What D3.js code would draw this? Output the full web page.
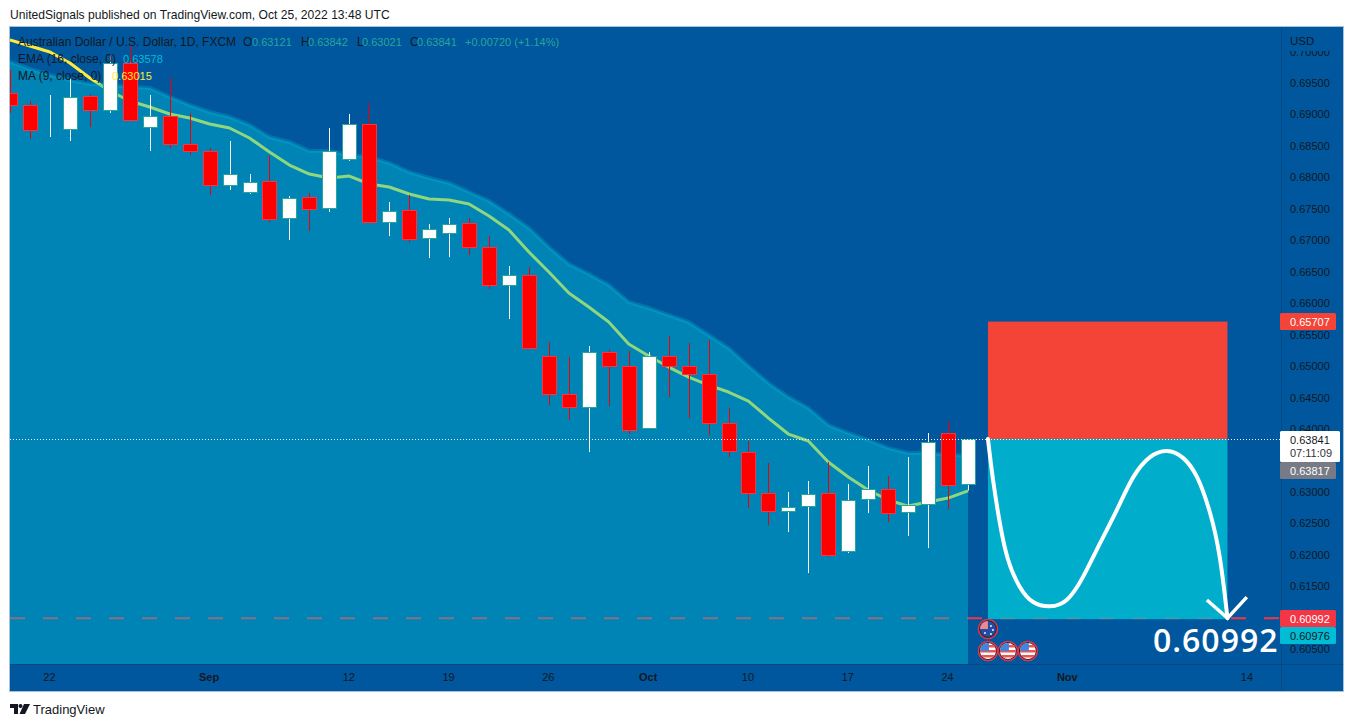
<!DOCTYPE html>
<html><head><meta charset="utf-8">
<script src="https://cdn.jsdelivr.net/npm/d3@7"></script>
<style>
html,body{margin:0;padding:0;background:#fff;overflow:hidden}
svg{display:block}
text{font-family:"Liberation Sans",Arial,sans-serif}
</style></head><body><div id="chart"></div>
<script>
// ---- data (prices) ----
const opens=[.69341,.69150,.68753,.68769,.69293,.69071,.69818,.68800,.68975,.68530,.68419,.67878,.67767,.67942,.67354,.67687,.67513,.68292,.68848,.67290,.67481,.67035,.67115,.67274,.66892,.66288,.66447,.65159,.64555,.64348,.65223,.65000,.64014,.65159,.65000,.64873,.64094,.63633,.62981,.62695,.62774,.62981,.62059,.62886,.63045,.62679,.62806,.63935,.63121];
const highs=[.69707,.69214,.69309,.69580,.69325,.69945,.70104,.69309,.69580,.69023,.68467,.68578,.68053,.68339,.67703,.67751,.68785,.69007,.69182,.67608,.67719,.67258,.67354,.67354,.67067,.66590,.66574,.65382,.65143,.65318,.65255,.65239,.65223,.65476,.65366,.65413,.64332,.63808,.63458,.62997,.63172,.63474,.63124,.63410,.63251,.63553,.63935,.64125,.63842];
const lows=[.69023,.68610,.68641,.68578,.68800,.69023,.68912,.68419,.68467,.68355,.67719,.67799,.67735,.67290,.67004,.67147,.67449,.68260,.67290,.67067,.66972,.66717,.66733,.66765,.66225,.65748,.65287,.64380,.64142,.63633,.64364,.63919,.64014,.64507,.64173,.63903,.63553,.62742,.62472,.62361,.61709,.61963,.62027,.62663,.62520,.62297,.62106,.62727,.63021];
const closes=[.69150,.68753,.68753,.69277,.69071,.69818,.68912,.68975,.68530,.68419,.67878,.68053,.67926,.67338,.67672,.67497,.68419,.68848,.67290,.67465,.67020,.67179,.67258,.66892,.66288,.66447,.65287,.64555,.64348,.65223,.65000,.63982,.65159,.65000,.64873,.64094,.63649,.62981,.62695,.62758,.62965,.61995,.62870,.63045,.62663,.62790,.63792,.63108,.63841];
const emaValues=[.69834,.69723,.69627,.69548,.69484,.69468,.69436,.69421,.69277,.69150,.69039,.68959,.68832,.68641,.68562,.68419,.68419,.68355,.68323,.68228,.68085,.67990,.67910,.67767,.67624,.67417,.67194,.66892,.66622,.66463,.66288,.66018,.65923,.65811,.65700,.65493,.65287,.65000,.64730,.64507,.64332,.64062,.63935,.63824,.63696,.63617,.63617,.63585,.63578];
const maValues=[.70184,.70088,.69993,.69818,.69580,.69373,.69214,.69118,.69007,.68944,.68848,.68785,.68626,.68403,.68196,.68053,.67990,.68021,.67894,.67846,.67735,.67656,.67640,.67576,.67385,.67163,.66813,.66495,.66161,.65938,.65700,.65350,.65159,.64984,.64825,.64698,.64587,.64444,.64173,.63919,.63808,.63474,.63235,.63029,.62870,.62774,.62838,.62901,.63015];
const priceTicks=[.605,.61,.615,.62,.625,.63,.64,.645,.65,.655,.66,.665,.67,.675,.68,.685,.69,.695,.70];
const timeTicks=[2,10,17,22,27,32,37,42,47,53,62];
const timeLabels=["22","Sep","12","19","26","Oct","10","17","24","Nov","14"];
const boldLabels=["Sep","Oct","Nov"];
const entry=.63841, stopLoss=.65707, target=.60976, targetLine=.60992, bidPrice=.63817;
const positionStart=49, positionEnd=61;
const pathIdx=[49,49.24,49.59,49.97,50.6,51.22,52.11,52.97,53.75,54.61,55.48,56.26,57.12,57.98,58.79,59.49,60.15,60.64,61];
const pathPrice=[.63841,.63192,.62488,.61889,.61455,.61219,.61157,.61235,.61617,.62189,.62711,.63270,.63590,.63684,.63569,.63280,.62684,.62008,.60992];
const arrowIdx=[59.97,61,61.97];
const arrowPrice=[.61280,.60992,.61327];
const eventIdx=[49,49,50,51];
const eventKind=["AU","US","US","US"];

// ---- layout ----
const W=1354,H=727,L=10,R=1343,T=27,B=691,axisX=1281,axisY=664;
const bg="#00579d", dark="#131722";
const x=d3.scaleLinear().domain([0,48]).range([10,968]);
const y=d3.scaleLinear().domain([.695,.605]).range([83,649.1]);
const idx=opens.map((_,i)=>i);

const svg=d3.select("#chart").append("svg").attr("width",W).attr("height",H);
const defs=svg.append("defs");
defs.append("clipPath").attr("id","pane").append("rect").attr("x",L).attr("y",T).attr("width",axisX-L).attr("height",axisY-T);
defs.append("clipPath").attr("id","scale").append("rect").attr("x",axisX).attr("y",51).attr("width",R-axisX).attr("height",axisY-51);
defs.append("clipPath").attr("id","flag").attr("clipPathUnits","objectBoundingBox").append("circle").attr("cx",.5).attr("cy",.5).attr("r",.5);

// header
svg.append("text").attr("x",10).attr("y",19).attr("fill",dark).attr("font-size",12.1)
  .text("UnitedSignals published on TradingView.com, Oct 25, 2022 13:48 UTC");

// frame
svg.append("rect").attr("x",L-.5).attr("y",T-.5).attr("width",R-L+1).attr("height",B-T+1).attr("fill",bg).attr("stroke","#a9c0da");

const pane=svg.append("g").attr("clip-path","url(#pane)");

// target dashed line (beneath area)
pane.append("line").attr("x1",L).attr("x2",axisX).attr("y1",y(targetLine)).attr("y2",y(targetLine))
  .attr("stroke","#f23645").attr("stroke-width",2).attr("stroke-dasharray","15 18");

// MA line, beneath the EMA area
pane.append("path").datum(idx).attr("fill","none").attr("stroke","#ffeb3b").attr("stroke-width",3).attr("stroke-linejoin","round")
  .attr("d",d3.line().x(i=>x(i)).y(i=>y(maValues[i])));
pane.append("path").datum(idx).attr("fill","#00bcd4").attr("fill-opacity",.44)
  .attr("d",d3.area().x(i=>x(i)).y0(axisY).y1(i=>y(emaValues[i])));
pane.append("path").datum(idx).attr("fill","none").attr("stroke","#00bcd4").attr("stroke-opacity",.3).attr("stroke-width",4)
  .attr("d",d3.line().x(i=>x(i)).y(i=>y(emaValues[i])));

// position tool
pane.append("rect").attr("x",x(positionStart)).attr("width",x(positionEnd)-x(positionStart))
  .attr("y",y(stopLoss)).attr("height",y(entry)-y(stopLoss)).attr("fill","#f44438");
pane.append("rect").attr("x",x(positionStart)).attr("width",x(positionEnd)-x(positionStart))
  .attr("y",y(entry)).attr("height",y(target)-y(entry)).attr("fill","#00bcd4").attr("fill-opacity",.85);

// candles
const up=i=>closes[i]>=opens[i];
const c=pane.selectAll("g.c").data(idx).join("g").attr("class","c");
c.append("line").attr("x1",i=>Math.round(x(i))+.5).attr("x2",i=>Math.round(x(i))+.5)
  .attr("y1",i=>y(highs[i])).attr("y2",i=>y(lows[i])).attr("stroke",i=>up(i)?"#ffffff":"#f00000");
c.append("rect").attr("x",i=>Math.round(x(i))-6.5).attr("width",14)
  .attr("y",i=>Math.round(y(Math.max(opens[i],closes[i])))+.5)
  .attr("height",i=>Math.max(0,Math.round(Math.abs(y(opens[i])-y(closes[i])))))
  .attr("fill",i=>up(i)?"#ffffff":"#ff0000").attr("stroke",i=>up(i)?"#26a69a":"#f23645");

// hand-drawn forecast
const forecast=d3.line().x(d=>x(d[0])).y(d=>y(d[1])).curve(d3.curveBasis);
pane.append("path").datum(pathIdx.map((v,i)=>[v,pathPrice[i]])).attr("fill","none").attr("stroke","#fff").attr("stroke-width",4).attr("stroke-linecap","round").attr("d",forecast);
pane.append("path").datum(arrowIdx.map((v,i)=>[v,arrowPrice[i]])).attr("fill","none").attr("stroke","#fff").attr("stroke-width",3.5)
  .attr("d",d3.line().x(d=>x(d[0])).y(d=>y(d[1])));

// last-price dotted line
svg.append("line").attr("x1",L).attr("x2",axisX).attr("y1",Math.round(y(entry))+.5).attr("y2",Math.round(y(entry))+.5)
  .attr("stroke","#fff").attr("stroke-dasharray","1 2");

// events
const ev=svg.selectAll("g.ev").data(eventIdx).join("g").attr("class","ev")
  .attr("transform",(d,i)=>`translate(${x(d)},${eventKind[i]==="AU"?629:651})`);
ev.append("circle").attr("r",9.5).attr("fill","#131722").attr("stroke","#e0364c").attr("stroke-width",1.6);
ev.each(function(d,i){
  const g=d3.select(this).append("g").attr("clip-path","url(#flag)");
  if(eventKind[i]==="AU"){
    g.append("rect").attr("x",-8).attr("y",-8).attr("width",16).attr("height",16).attr("fill","#1f4ea3");
    g.append("rect").attr("x",-8).attr("y",-8).attr("width",8).attr("height",8).attr("fill","#e88a92");
    [[-3,4],[3,-3],[5,1],[3,5]].forEach(p=>g.append("circle").attr("cx",p[0]).attr("cy",p[1]).attr("r",.9).attr("fill","#fff"));
  } else {
    g.append("rect").attr("x",-8).attr("y",-8).attr("width",16).attr("height",16).attr("fill","#fff");
    [-6,-1,4].forEach(v=>g.append("rect").attr("x",-8).attr("y",v).attr("width",16).attr("height",2.5).attr("fill","#ef5350"));
    g.append("rect").attr("x",-8).attr("y",-8).attr("width",9).attr("height",8).attr("fill","#3f86e0");
  }
});

// axes
svg.append("line").attr("x1",axisX+.5).attr("x2",axisX+.5).attr("y1",T).attr("y2",B).attr("stroke",dark).attr("stroke-opacity",.2);
svg.append("line").attr("x1",L).attr("x2",R).attr("y1",axisY+.5).attr("y2",axisY+.5).attr("stroke",dark).attr("stroke-opacity",.2);

const yAxis=svg.append("g").attr("clip-path","url(#scale)")
  .append("g").attr("transform",`translate(${axisX},0)`)
  .call(d3.axisRight(y).tickValues(priceTicks).tickSize(0).tickPadding(9).tickFormat(d3.format(".5f")));
yAxis.select(".domain").remove();
yAxis.selectAll("text").attr("font-size",11).attr("fill",dark).style("font-family",'"Liberation Sans",Arial,sans-serif');

const xAxis=svg.append("g").attr("transform",`translate(-1,${axisY})`)
  .call(d3.axisBottom(x).tickValues(timeTicks).tickSize(0).tickPadding(9).tickFormat((d,i)=>timeLabels[i]));
xAxis.select(".domain").remove();
xAxis.selectAll("text").attr("font-size",11).attr("fill",dark).style("font-family",'"Liberation Sans",Arial,sans-serif')
  .attr("font-weight",(d,i)=>boldLabels.includes(timeLabels[i])?"bold":"normal");

svg.append("text").attr("x",1290).attr("y",45).attr("fill",dark).attr("font-size",11.5).text("USD");

// price badges
function badge(p,x1,x2,yTop,yBot,fill,color,extra){
  svg.append("rect").attr("x",x1).attr("y",yTop).attr("width",x2-x1).attr("height",yBot-yTop).attr("rx",1.5).attr("fill",fill);
  svg.append("text").attr("x",1290).attr("y",yTop+12.5).attr("fill",color).attr("font-size",11).text(p);
  if(extra) svg.append("text").attr("x",1290).attr("y",yTop+26).attr("fill","#333").attr("font-size",11).text(extra);
}
const fmt=d3.format(".5f");
badge(fmt(stopLoss),1280,1336,313,330,"#f44438","#fff");
badge(fmt(entry),1280,1340,431,462,"#ffffff","#131722","07:11:09");
badge(fmt(bidPrice),1280,1336,462,479,"#787b86","#fff");
badge(fmt(targetLine),1280,1336,610,627,"#f23645","#fff");
badge(fmt(target),1280,1336,627,644,"#00bcd4","#131722");

// large annotation
svg.append("text").attr("x",1153).attr("y",652).attr("fill","#fff").attr("font-size",32).attr("font-weight",600)
  .attr("letter-spacing",1).style("font-family",'"Open Sans",sans-serif').text(fmt(targetLine));

// legend
const green="#26a69a";
const legendParts=[
 ["Australian Dollar / U.S. Dollar, 1D, FXCM",18,46,dark,12],
 ["O",243,46,dark,12],[fmt(.63121),252,46,green,11],
 ["H",301,46,dark,12],[fmt(.63842),308,46,green,11],
 ["L",357,46,dark,12],[fmt(.63021),362,46,green,11],
 ["C",410,46,dark,12],[fmt(.63841),417,46,green,11],
 ["+0.00720 (+1.14%)",465,46,green,11],
 ["EMA (16, close, 0)",18,63,dark,12],[fmt(.63578),123,63,"#00bcd4",11],
 ["MA (9, close, 0)",18,80,dark,12],[fmt(.63015),112,80,"#ffeb3b",11]
];
svg.selectAll("text.leg").data(legendParts).join("text").attr("class","leg")
  .attr("x",d=>d[1]).attr("y",d=>d[2]).attr("fill",d=>d[3]).attr("font-size",d=>d[4]).text(d=>d[0]);

// footer
const logo=svg.append("g").attr("transform","translate(10,704)").attr("fill","#131722");
logo.append("path").attr("d","M0 0H8V10H4V4H0Z");
logo.append("circle").attr("cx",10.5).attr("cy",2).attr("r",2);
logo.append("path").attr("d","M14 0H20L15 10H9.5Z");
svg.append("text").attr("x",33).attr("y",714).attr("fill","#131722").attr("font-size",13).text("TradingView");
</script></body></html>
